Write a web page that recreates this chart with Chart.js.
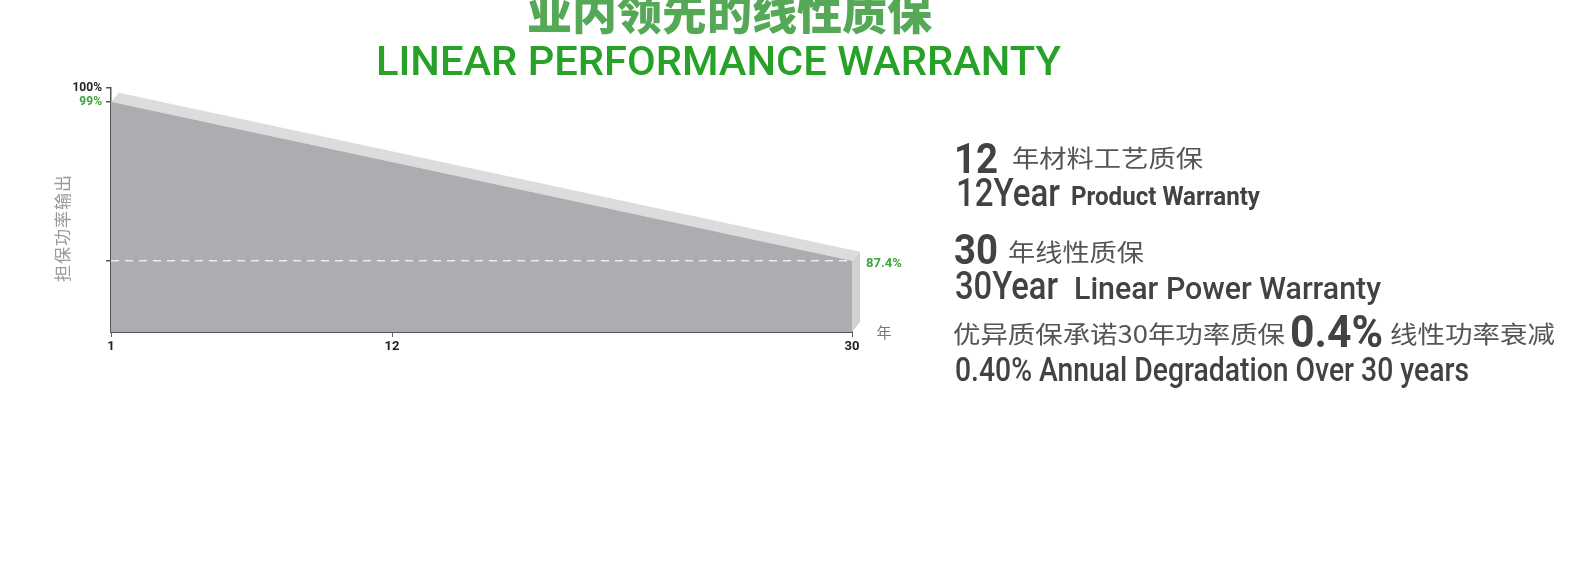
<!DOCTYPE html>
<html>
<head>
<meta charset="utf-8">
<script src="https://cdn.jsdelivr.net/npm/chart.js@4.4.1/dist/chart.umd.min.js"></script>
<style>
  html, body { margin:0; padding:0; background:#fff; width:1580px; height:568px; overflow:hidden; }
  #wrap { position:absolute; left:0; top:0; width:1580px; height:568px; }
  .t { position:absolute; white-space:nowrap; width:max-content; transform-origin:0 0; line-height:1.2; }
  .bl { display:inline-block; width:0; height:0; vertical-align:baseline; }
  .cjk { font-family:"Noto Sans CJK SC", sans-serif; }
  .lat { font-family:Roboto, "DejaVu Sans", sans-serif; }
</style>
</head>
<body>
<div id="wrap"><canvas id="c"></canvas></div>

<div class="t cjk" data-x="527" data-b="30" data-w="405" style="font-size:45px;font-weight:900;color:#55a855;">业内领先的线性质保<span class="bl"></span></div>
<div class="t lat" data-x="376" data-b="75" data-w="685" style="font-size:41px;font-weight:500;color:#27a127;">LINEAR PERFORMANCE WARRANTY<span class="bl"></span></div>

<div class="t lat" data-x="954" data-b="173" data-w="44" style="font-size:43px;font-weight:700;color:#424242;">12<span class="bl"></span></div>
<div class="t cjk" data-x="1012" data-b="167" data-w="191" style="font-size:24px;color:#555;">年材料工艺质保<span class="bl"></span></div>
<div class="t lat" data-x="956" data-b="206" data-w="104" style="font-size:38px;font-weight:500;color:#424242;">12Year<span class="bl"></span></div>
<div class="t lat" data-x="1071" data-b="205" data-w="189" style="font-size:25px;font-weight:700;color:#424242;">Product Warranty<span class="bl"></span></div>

<div class="t lat" data-x="954" data-b="264" data-w="44" style="font-size:43px;font-weight:700;color:#424242;">30<span class="bl"></span></div>
<div class="t cjk" data-x="1008" data-b="261" data-w="136" style="font-size:24px;color:#555;">年线性质保<span class="bl"></span></div>
<div class="t lat" data-x="955" data-b="299" data-w="103" style="font-size:38px;font-weight:500;color:#424242;">30Year<span class="bl"></span></div>
<div class="t lat" data-x="1074" data-b="299" data-w="307" style="font-size:32px;font-weight:500;color:#424242;">Linear Power Warranty<span class="bl"></span></div>

<div class="t cjk" data-x="953" data-b="343" data-w="332" style="font-size:24px;color:#555;">优异质保承诺30年功率质保<span class="bl"></span></div>
<div class="t lat" data-x="1290" data-b="347" data-w="93" style="font-size:44px;font-weight:700;color:#424242;">0.4%<span class="bl"></span></div>
<div class="t cjk" data-x="1390" data-b="343" data-w="165" style="font-size:24px;color:#555;">线性功率衰减<span class="bl"></span></div>
<div class="t lat" data-x="955" data-b="381" data-w="514" style="font-size:33px;font-weight:500;color:#424242;">0.40% Annual Degradation Over 30 years<span class="bl"></span></div>

<script>
// ---- data ----
const years = [1, 30];
const warrantedPower = [99, 87.4];
const guaranteeLevel = [87.4, 87.4];
const xTickValues = [1, 12, 30];
const yTickValues = [100, 99, 87.4];
const yTickLabels = ['100%', '99%', ''];
const endLabel = '87.4%';
const xUnit = '年';
const yTitle = '担保功率输出';

const GREEN = '#3aa53a';

const decor = {
  id: 'decor',
  beforeDatasetsDraw(chart) {
    const meta = chart.getDatasetMeta(1);
    const a = meta.data[0], b = meta.data[meta.data.length - 1];
    const bottom = chart.chartArea.bottom;
    const dx = 8, dy = -9;
    const ctx = chart.ctx;
    ctx.save();
    ctx.fillStyle = '#dcdcdd';
    ctx.beginPath();
    ctx.moveTo(a.x, a.y);
    ctx.lineTo(a.x + dx, a.y + dy);
    ctx.lineTo(b.x + dx, b.y + dy);
    ctx.lineTo(b.x, b.y);
    ctx.closePath();
    ctx.fill();
    ctx.fillStyle = '#d1d1d3';
    ctx.beginPath();
    ctx.moveTo(b.x, b.y);
    ctx.lineTo(b.x + dx, b.y + dy);
    ctx.lineTo(b.x + dx, bottom - 10);
    ctx.lineTo(b.x, bottom);
    ctx.closePath();
    ctx.fill();
    ctx.restore();
  },
  afterDraw(chart) {
    const ctx = chart.ctx;
    const ca = chart.chartArea;
    const ys = chart.scales.y;
    ctx.save();
    // end label
    ctx.fillStyle = GREEN;
    ctx.font = 'bold 13px Roboto, "DejaVu Sans", sans-serif';
    ctx.textAlign = 'left';
    ctx.textBaseline = 'middle';
    ctx.fillText(endLabel, ca.right + 14, ys.getPixelForValue(guaranteeLevel[guaranteeLevel.length - 1]) + 3);
    // x unit
    ctx.fillStyle = '#777';
    ctx.font = '15px "Noto Sans CJK SC", sans-serif';
    ctx.textAlign = 'center';
    ctx.fillText(xUnit, ca.right + 32, ca.bottom);
    // y title
    ctx.translate(63, ca.bottom - 104);
    ctx.rotate(-Math.PI / 2);
    ctx.fillStyle = '#999';
    ctx.font = '17px "Noto Sans CJK SC", sans-serif';
    ctx.letterSpacing = '1px';
    ctx.textAlign = 'center';
    ctx.fillText(yTitle, 0, 0);
    ctx.restore();
  }
};

new Chart(document.getElementById('c'), {
  type: 'line',
  data: {
    datasets: [
      {
        label: 'guarantee',
        data: years.map((x, i) => ({ x, y: guaranteeLevel[i] })),
        borderColor: '#ececec',
        borderWidth: 1.6,
        borderDash: [8, 6],
        pointRadius: 0,
        fill: false,
        order: 0
      },
      {
        label: 'power',
        data: years.map((x, i) => ({ x, y: warrantedPower[i] })),
        borderWidth: 0,
        borderColor: 'rgba(0,0,0,0)',
        backgroundColor: '#adacb1',
        pointRadius: 0,
        fill: 'start',
        order: 1
      }
    ]
  },
  options: {
    responsive: true,
    maintainAspectRatio: false,
    animation: false,
    events: [],
    layout: { padding: { left: 0, top: 88, right: 728, bottom: 206 } },
    plugins: { legend: { display: false }, tooltip: { enabled: false }, title: { display: false } },
    scales: {
      x: {
        type: 'linear',
        min: years[0],
        max: years[years.length - 1],
        afterBuildTicks: s => { s.ticks = xTickValues.map(v => ({ value: v })); },
        afterFit: s => { s.height = 30; },
        grid: { drawOnChartArea: false, drawTicks: true, tickLength: 5, color: '#666', lineWidth: 1 },
        border: { display: true, color: '#555', width: 2 },
        ticks: {
          autoSkip: false, maxRotation: 0, padding: 2, color: '#222',
          font: { family: 'Roboto, "DejaVu Sans", sans-serif', size: 13, weight: 'bold' },
          callback: v => String(v)
        }
      },
      y: {
        type: 'linear',
        min: 82.2,
        max: 100,
        afterBuildTicks: s => { s.ticks = yTickValues.map(v => ({ value: v })); },
        afterFit: s => { s.width = 111; },
        grid: { drawOnChartArea: false, drawTicks: true, tickLength: 5, color: '#555', lineWidth: 1.5 },
        border: { display: true, color: '#555', width: 1.5 },
        ticks: {
          autoSkip: false, padding: 4,
          color: c => (c.tick && c.tick.value === 99 ? GREEN : '#222'),
          font: { family: 'Roboto, "DejaVu Sans", sans-serif', size: 12, weight: 'bold' },
          callback: (v, i) => yTickLabels[i]
        }
      }
    }
  },
  plugins: [decor]
});

function fitTexts() {
  document.querySelectorAll('.t').forEach(el => {
    el.style.transform = 'none';
    el.style.left = el.dataset.x + 'px';
    el.style.top = '0px';
    const mk = el.querySelector('.bl');
    const off = mk.offsetTop;
    el.style.top = (parseFloat(el.dataset.b) - off) + 'px';
    const w = el.getBoundingClientRect().width;
    el.style.transform = 'scaleX(' + (parseFloat(el.dataset.w) / w) + ')';
  });
}
fitTexts();
if (document.fonts && document.fonts.ready) document.fonts.ready.then(fitTexts);
</script>
</body>
</html>
